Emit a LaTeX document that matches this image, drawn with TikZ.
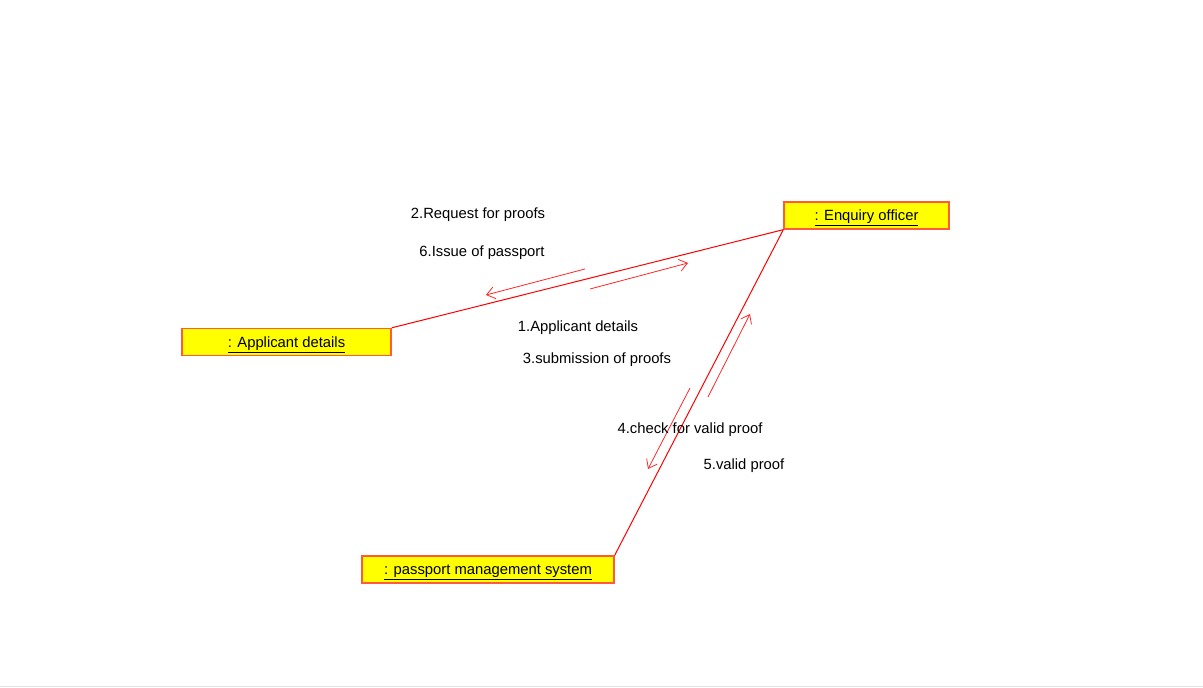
\documentclass[tikz,border=0pt]{standalone}
\usepackage{fontspec}
\setmainfont{Liberation Sans}
\usetikzlibrary{arrows.meta}
\definecolor{boxfill}{RGB}{255,255,0}
\definecolor{boxline}{RGB}{255,90,60}
\definecolor{linkred}{RGB}{255,0,0}
\definecolor{msgred}{RGB}{255,40,40}
\begin{document}
\begin{tikzpicture}[x=1pt,y=-1pt,
  obj/.style={draw=boxline,fill=boxfill,line width=1.3pt,minimum height=27pt,inner sep=0pt,
    font=\fontsize{14.8}{16}\selectfont},
  link/.style={draw=linkred,line width=1pt},
  msg/.style={draw=msgred,line width=0.8pt,-{Straight Barb[length=8pt,width=12pt,line width=0.8pt]}},
  lbl/.style={inner sep=0pt,font=\fontsize{14.8}{16}\selectfont}]
\useasboundingbox (0,0) rectangle (1203,688);
\fill[white] (0,0) rectangle (1203,688);
\draw[black!10,line width=1pt] (0,686.5) -- (1203,686.5);
\node[obj,minimum width=209pt] (app) at (286.5,342) {};
\node[obj,minimum width=165pt] (enq) at (866.5,215.5) {};
\node[obj,minimum width=252pt] (pms) at (488,569.5) {};
\node[lbl] (tapp) at ([yshift=-2.5pt]app.center) {\underline{: Applicant details}};
\node[lbl] (tenq) at ([yshift=-2pt]enq.center) {\underline{: Enquiry officer}};
\node[lbl] (tpms) at ([yshift=-2.5pt]pms.center) {\underline{: passport management system}};
\draw[link] (app.north east) -- (enq.south west);
\draw[link] (enq.south west) -- (pms.north east);
\coordinate (a1s) at (585,269); \coordinate (a1e) at (486,295);
\coordinate (a2s) at (590,289); \coordinate (a2e) at (688,263);
\coordinate (a3s) at (690,388); \coordinate (a3e) at (648,469);
\coordinate (a4s) at (708,397); \coordinate (a4e) at (750,314);
\draw[msg] (a1s) -- (a1e);
\draw[msg] (a2s) -- (a2e);
\draw[msg] (a3s) -- (a3e);
\draw[msg] (a4s) -- (a4e);
\node[lbl] (l2) at (478,215) {2.Request for proofs};
\node[lbl] (l6) at (482,253) {6.Issue of passport};
\node[lbl] (l1) at (578,328) {1.Applicant details};
\node[lbl] (l3) at (597,360) {3.submission of proofs};
\node[lbl] (l4) at (690,430) {4.check for valid proof};
\node[lbl] (l5) at (744,466) {5.valid proof};
\end{tikzpicture}
\end{document}
